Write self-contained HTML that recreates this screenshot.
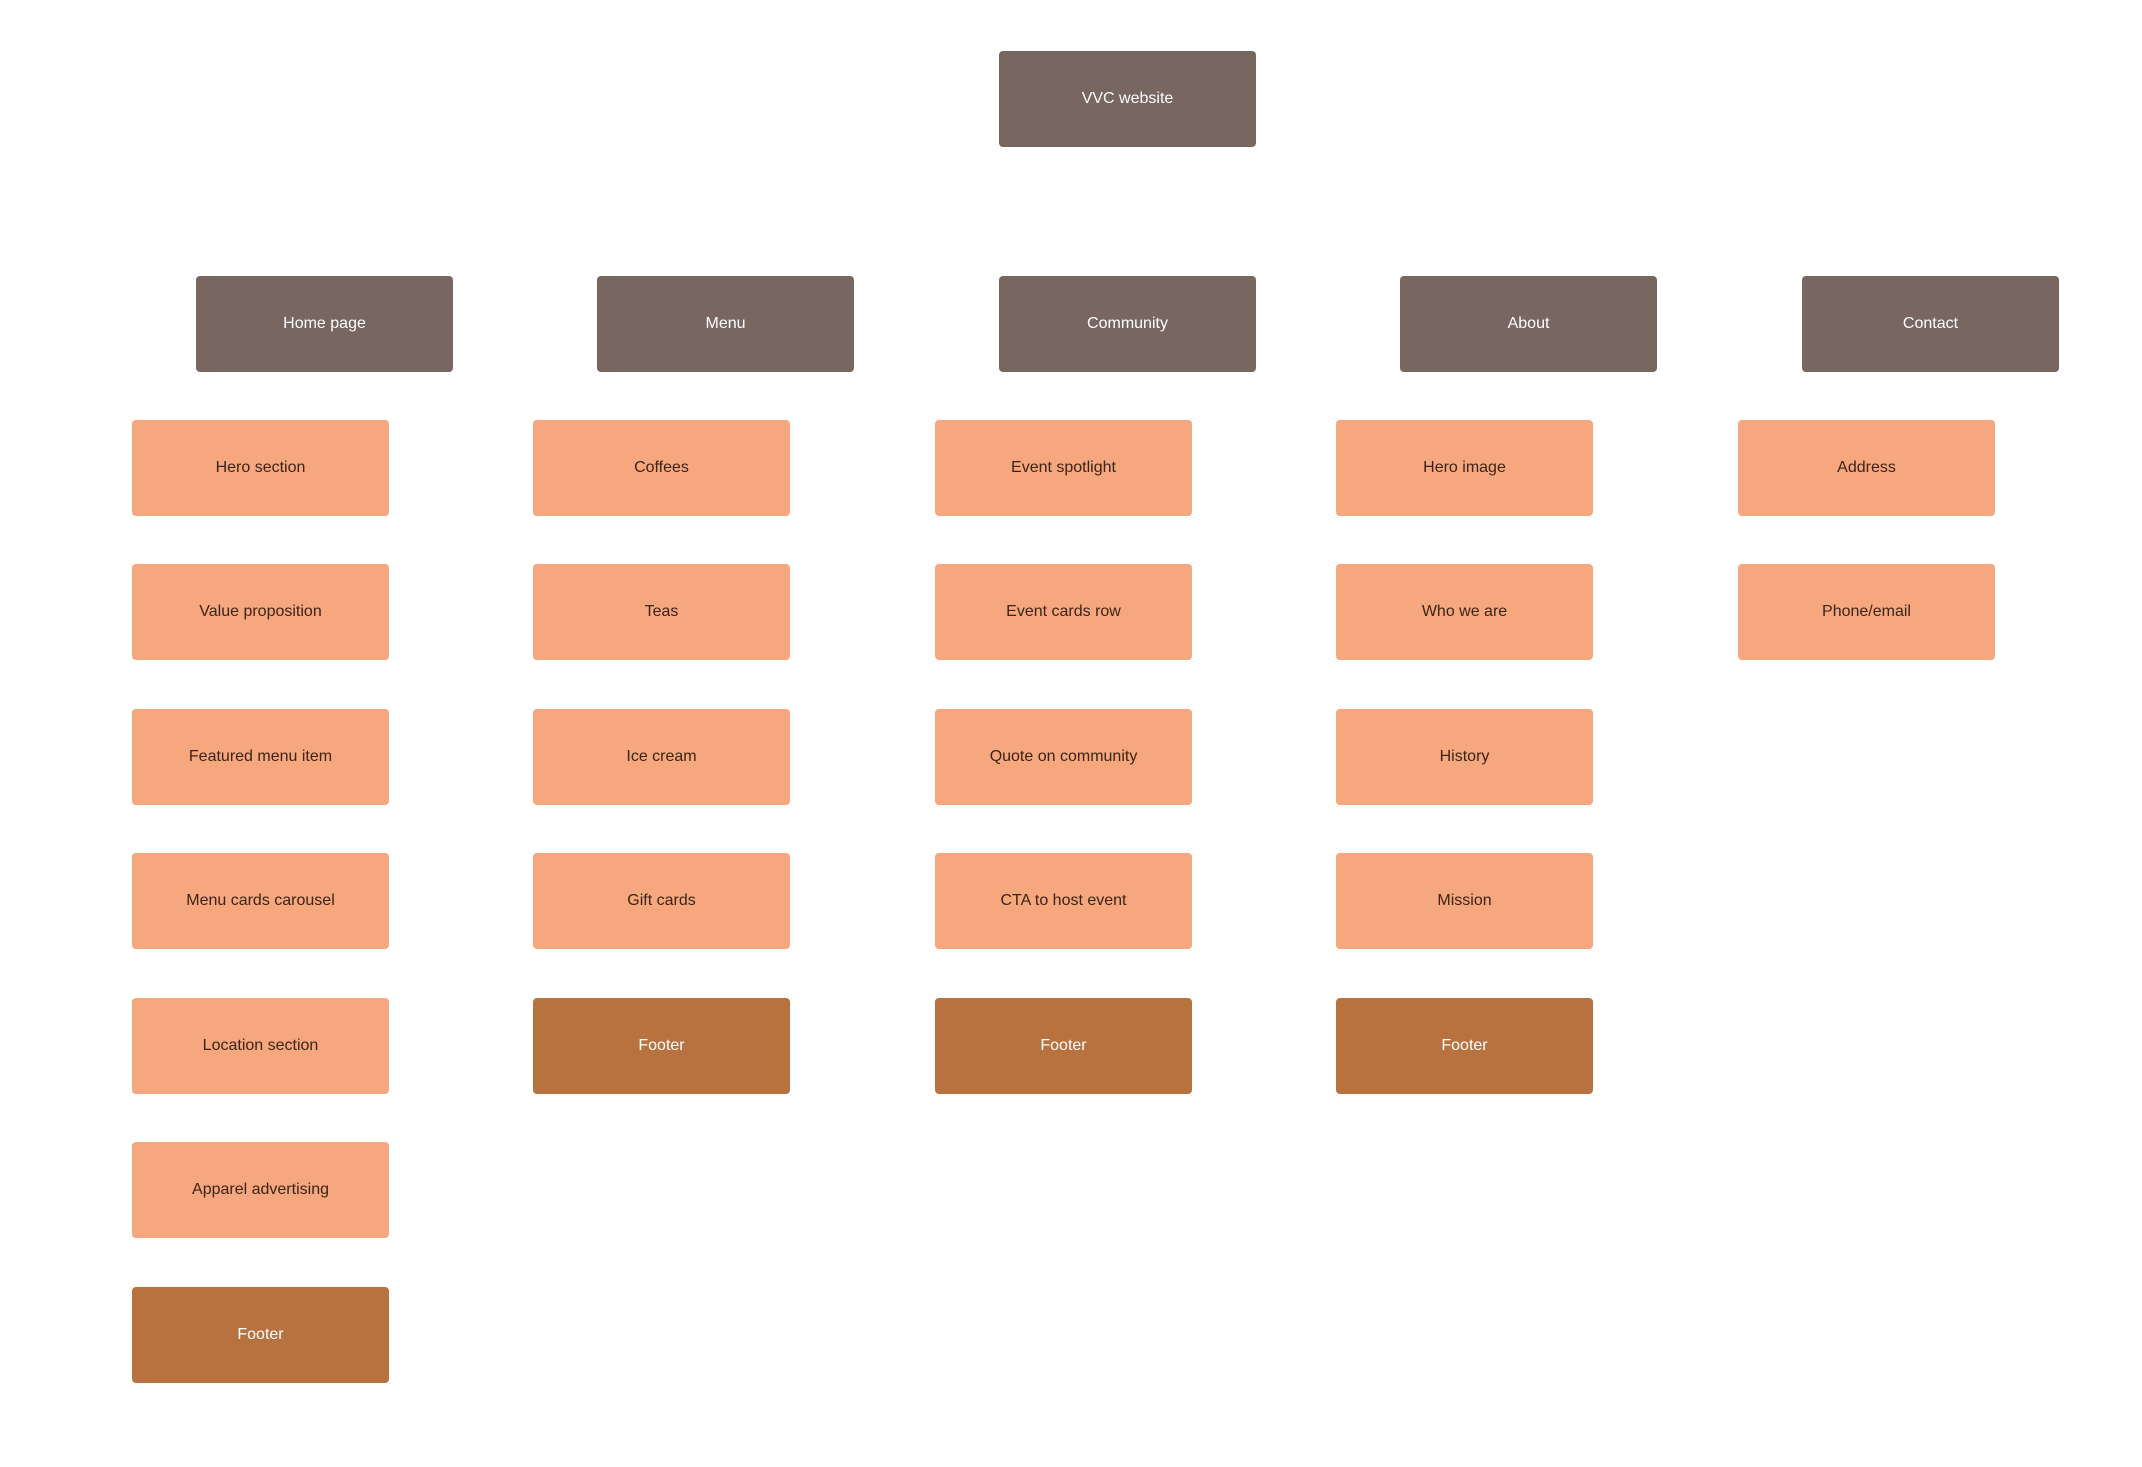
<!DOCTYPE html>
<html><head><meta charset="utf-8"><style>
html,body{margin:0;padding:0;background:#fff;}
body{width:2142px;height:1467px;position:relative;overflow:hidden;font-family:"Liberation Sans",sans-serif;}
.b{position:absolute;width:257px;height:96px;border-radius:4px;display:flex;align-items:center;justify-content:center;font-size:16px;}
.d{background:#786661;color:#fff;}
.l{background:#F6A77D;color:#3a2418;}
.f{background:#B87240;color:#fff;}
</style></head><body>
<div class="b d" style="left:999px;top:51px">VVC website</div>
<div class="b d" style="left:196px;top:276px">Home page</div>
<div class="b d" style="left:597px;top:276px">Menu</div>
<div class="b d" style="left:999px;top:276px">Community</div>
<div class="b d" style="left:1400px;top:276px">About</div>
<div class="b d" style="left:1802px;top:276px">Contact</div>

<div class="b l" style="left:132px;top:420px">Hero section</div>
<div class="b l" style="left:132px;top:564px">Value proposition</div>
<div class="b l" style="left:132px;top:709px">Featured menu item</div>
<div class="b l" style="left:132px;top:853px">Menu cards carousel</div>
<div class="b l" style="left:132px;top:998px">Location section</div>
<div class="b l" style="left:132px;top:1142px">Apparel advertising</div>
<div class="b f" style="left:132px;top:1287px">Footer</div>

<div class="b l" style="left:533px;top:420px">Coffees</div>
<div class="b l" style="left:533px;top:564px">Teas</div>
<div class="b l" style="left:533px;top:709px">Ice cream</div>
<div class="b l" style="left:533px;top:853px">Gift cards</div>
<div class="b f" style="left:533px;top:998px">Footer</div>

<div class="b l" style="left:935px;top:420px">Event spotlight</div>
<div class="b l" style="left:935px;top:564px">Event cards row</div>
<div class="b l" style="left:935px;top:709px">Quote on community</div>
<div class="b l" style="left:935px;top:853px">CTA to host event</div>
<div class="b f" style="left:935px;top:998px">Footer</div>

<div class="b l" style="left:1336px;top:420px">Hero image</div>
<div class="b l" style="left:1336px;top:564px">Who we are</div>
<div class="b l" style="left:1336px;top:709px">History</div>
<div class="b l" style="left:1336px;top:853px">Mission</div>
<div class="b f" style="left:1336px;top:998px">Footer</div>

<div class="b l" style="left:1738px;top:420px">Address</div>
<div class="b l" style="left:1738px;top:564px">Phone/email</div>
</body></html>
